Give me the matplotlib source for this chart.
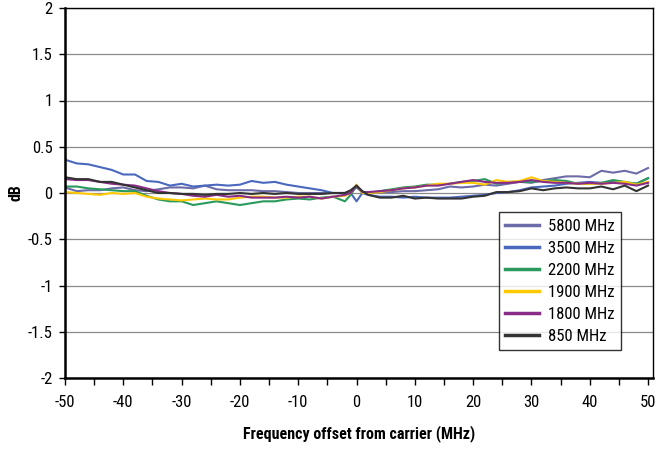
import numpy as np
import matplotlib
matplotlib.use('Agg')
import matplotlib.pyplot as plt
from matplotlib import font_manager
from matplotlib.ticker import MultipleLocator, FuncFormatter

names = {f.name for f in font_manager.fontManager.ttflist}
narrow = [n for n in ['Liberation Sans Narrow', 'DejaVu Sans Condensed', 'Roboto Condensed']
          if n in names]
plt.rcParams['font.family'] = narrow + ['Liberation Sans', 'DejaVu Sans']
plt.rcParams['axes.unicode_minus'] = False

# frequency offset (MHz); finer around the carrier spike
offset = list(range(-50, -1, 2)) + [-1, 0, 1] + list(range(2, 51, 2))

labels = ['5800 MHz', '3500 MHz', '2200 MHz', '1900 MHz', '1800 MHz', '850 MHz']
colors = ['#6c6ca8', '#4a68bd', '#2a9a5c', '#ffc800', '#882c88', '#333333']

# dB values
db_5800 = [0.06, 0.02, 0.03, 0.03, 0.05, 0.06, 0.03, 0.02, 0.04, 0.06, 0.06, 0.05, 0.08,
           0.04, 0.03, 0.03, 0.03, 0.02, 0.02, 0.01, 0.00, 0.00, 0.00, 0.00, 0.00,
           0.02, 0.06, 0.01,
           0.01, 0.01, 0.01, 0.02, 0.02, 0.03, 0.04, 0.07, 0.06, 0.07, 0.09, 0.08, 0.10,
           0.12, 0.11, 0.14, 0.16, 0.18, 0.18, 0.17, 0.24, 0.22, 0.24, 0.21, 0.27]
db_3500 = [0.36, 0.32, 0.31, 0.28, 0.25, 0.20, 0.20, 0.13, 0.12, 0.08, 0.10, 0.07, 0.08,
           0.09, 0.08, 0.09, 0.13, 0.11, 0.12, 0.09, 0.07, 0.05, 0.03, 0.00, 0.00,
           0.00, -0.09, 0.00,
           -0.02, -0.04, -0.04, -0.05, -0.04, -0.05, -0.05, -0.05, -0.04, -0.03, -0.02, 0.00,
           0.01, 0.03, 0.06, 0.07, 0.08, 0.10, 0.11, 0.12, 0.11, 0.12, 0.11, 0.10, 0.16]
db_2200 = [0.07, 0.07, 0.05, 0.04, 0.03, 0.02, 0.02, -0.03, -0.07, -0.09, -0.09, -0.13, -0.11,
           -0.09, -0.11, -0.13, -0.11, -0.09, -0.09, -0.07, -0.06, -0.07, -0.05, -0.04, -0.09,
           -0.02, 0.08, 0.00,
           0.00, 0.02, 0.04, 0.06, 0.07, 0.09, 0.09, 0.10, 0.12, 0.13, 0.15, 0.10, 0.12,
           0.12, 0.12, 0.13, 0.14, 0.13, 0.10, 0.10, 0.11, 0.14, 0.12, 0.10, 0.16]
db_1900 = [0.01, 0.00, -0.01, -0.02, 0.00, -0.01, 0.00, -0.04, -0.06, -0.07, -0.08, -0.07, -0.06,
           -0.07, -0.07, -0.05, -0.04, -0.04, -0.05, -0.05, -0.04, -0.04, -0.06, -0.04, -0.03,
           0.00, 0.09, 0.00,
           0.00, 0.01, 0.03, 0.05, 0.06, 0.08, 0.10, 0.10, 0.11, 0.11, 0.09, 0.14, 0.12,
           0.13, 0.17, 0.13, 0.12, 0.11, 0.10, 0.10, 0.10, 0.11, 0.12, 0.09, 0.12]
db_1800 = [0.15, 0.14, 0.14, 0.12, 0.10, 0.09, 0.08, 0.05, 0.02, 0.00, -0.01, -0.03, -0.04,
           -0.02, -0.04, -0.03, -0.05, -0.05, -0.05, -0.04, -0.05, -0.04, -0.06, -0.04, -0.02,
           0.00, 0.08, 0.01,
           0.01, 0.02, 0.03, 0.05, 0.06, 0.08, 0.08, 0.10, 0.12, 0.14, 0.12, 0.11, 0.11,
           0.12, 0.14, 0.12, 0.11, 0.11, 0.10, 0.11, 0.10, 0.11, 0.10, 0.08, 0.11]
db_850 = [0.17, 0.15, 0.15, 0.12, 0.12, 0.09, 0.06, 0.03, 0.00, 0.00, -0.01, -0.01, -0.02,
          -0.01, -0.01, 0.00, -0.01, 0.00, -0.01, 0.00, -0.01, -0.01, -0.01, 0.00, 0.00,
          0.03, 0.08, 0.02,
          -0.02, -0.05, -0.05, -0.03, -0.06, -0.05, -0.06, -0.06, -0.06, -0.04, -0.03, 0.01,
          0.01, 0.02, 0.05, 0.03, 0.05, 0.06, 0.05, 0.05, 0.07, 0.04, 0.08, 0.02, 0.08]

series = [db_5800, db_3500, db_2200, db_1900, db_1800, db_850]

fig = plt.figure(figsize=(6.56, 4.51), dpi=100)
ax = fig.add_axes([65 / 656, 73 / 451, 588 / 656, 370 / 451])

for vals, lab, col in zip(series, labels, colors):
    ax.plot(offset, vals, color=col, lw=1.5, label=lab)

ax.set_xlim(-50, 50.85)
ax.set_ylim(-2, 2)
ax.xaxis.set_major_locator(MultipleLocator(10))
ax.xaxis.set_minor_locator(MultipleLocator(5))
ax.yaxis.set_major_locator(MultipleLocator(0.5))
ax.yaxis.set_major_formatter(FuncFormatter(lambda v, p: '%g' % v))
ax.grid(axis='y', color='#8a8a8a', lw=0.9)
ax.set_axisbelow(True)

fs = 12 if narrow else 9.5
ax.tick_params(axis='both', which='both', direction='out', labelsize=fs,
               color='black', width=1)
ax.tick_params(axis='x', which='both', length=5, pad=7)
ax.tick_params(axis='y', length=4, pad=5)

for s in ax.spines.values():
    s.set_color('black')
    s.set_linewidth(1.0)
ax.spines['left'].set_linewidth(1.8)
ax.spines['bottom'].set_linewidth(1.8)

ax.set_xlabel('Frequency offset from carrier (MHz)', fontsize=fs - 0.5,
              fontweight='bold', labelpad=11)
ax.set_ylabel('dB', fontsize=fs - 0.5, fontweight='bold', labelpad=3)

leg = ax.legend(loc='upper right', bbox_to_anchor=(0.9456, 0.4486),
                fontsize=fs, frameon=True, fancybox=False,
                handlelength=2.0, handletextpad=0.55, labelspacing=0.42,
                borderpad=0.4, borderaxespad=0)
leg.get_frame().set_edgecolor('black')
leg.get_frame().set_linewidth(1.0)
for h in leg.get_lines():
    h.set_linewidth(2.5)

fig.savefig('out.png', dpi=100)
